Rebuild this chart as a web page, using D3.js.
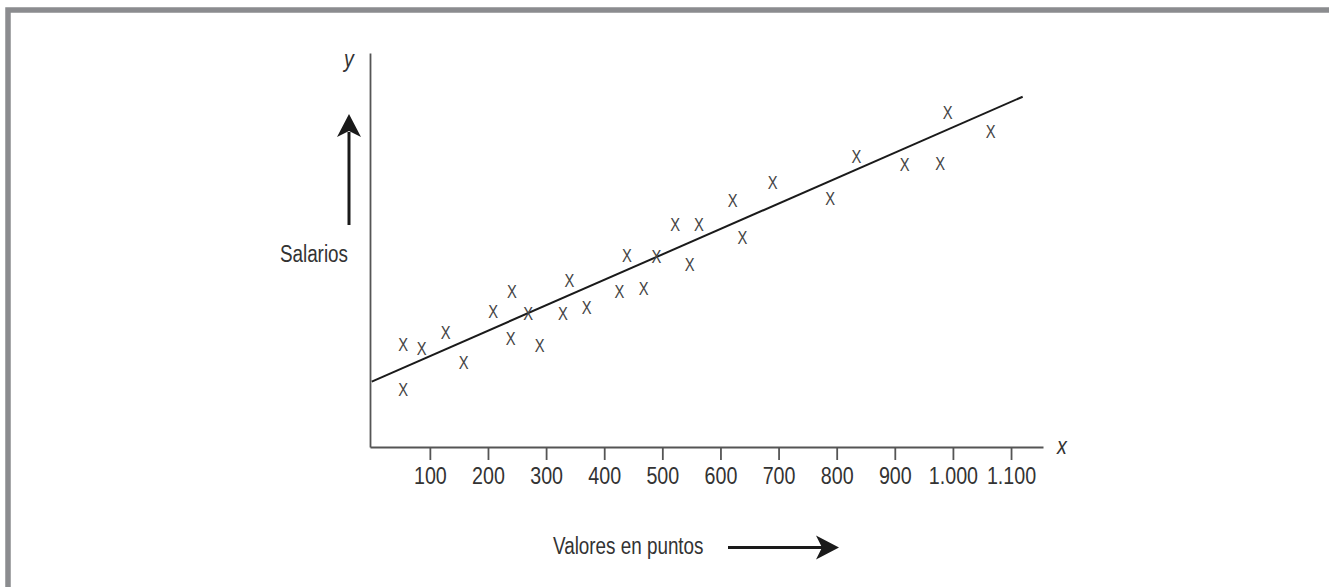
<!DOCTYPE html>
<html>
<head>
<meta charset="utf-8">
<script src="https://cdn.jsdelivr.net/npm/d3@7"></script>
<style>
  body { margin: 0; background: #fff; }
  svg { display: block; }
  text { font-family: "Liberation Sans", Arial, sans-serif; fill: #333; }
</style>
</head>
<body>
<div id="chart"></div>
<script>
// puntos (valor en puntos) y salarios (unidades relativas, sin escala en el eje)
var puntos = [54, 54, 86, 127, 158, 209, 241, 239, 269, 289, 329, 340, 370, 426, 439, 468, 490, 547, 522, 563, 621, 638, 690, 789, 834, 917, 978, 991, 1065];
var salarios = [25.9, 14.6, 25.1, 29.1, 21.5, 34.3, 39.4, 27.6, 33.9, 25.7, 33.9, 42.2, 35.5, 39.4, 48.7, 40.1, 48.3, 46.2, 56.5, 56.5, 62.5, 53.2, 67.1, 63.0, 73.7, 71.6, 72.0, 84.9, 80.2];
// recta de regresion (extremos)
var rectaX = [0, 1120];
var rectaY = [16.6, 88.9];
var tickValues = [100, 200, 300, 400, 500, 600, 700, 800, 900, 1000, 1100];

var width = 1329, height = 587;
var narrow = 0.82; // la fuente original es condensada

var svg = d3.select("#chart").append("svg")
  .attr("width", width).attr("height", height);

// marco gris (arriba e izquierda)
svg.append("rect")
  .attr("x", 8).attr("y", 10)
  .attr("width", 1400).attr("height", 700)
  .attr("fill", "none")
  .attr("stroke", "#8b8c8f")
  .attr("stroke-width", 5.5);

var x = d3.scaleLinear().domain([-3, 1155]).range([370, 1043]);
var y = d3.scaleLinear().domain([0, 100]).range([447, 53]);

var es = d3.formatLocale({ decimal: ",", thousands: ".", grouping: [3], currency: ["", " €"] });

// texto condensado en (px, py)
function label(px, py, str, size, anchor, italic) {
  var t = svg.append("g")
    .attr("transform", "translate(" + px + "," + py + ") scale(" + narrow + ",1)")
    .append("text")
    .attr("text-anchor", anchor || "start")
    .style("font-size", size + "px")
    .text(str);
  if (italic) t.style("font-style", "italic");
  return t;
}

// eje x
var gx = svg.append("g")
  .attr("transform", "translate(0," + y(0) + ")")
  .call(d3.axisBottom(x)
    .tickValues(tickValues)
    .tickFormat(es.format(",d"))
    .tickSize(13)
    .tickSizeOuter(0)
    .tickPadding(7));
gx.select(".domain").attr("stroke", "#555").attr("stroke-width", 2);
gx.selectAll(".tick line").attr("stroke", "#555").attr("stroke-width", 1.8);
gx.selectAll(".tick text")
  .attr("fill", "#333")
  .attr("transform", "scale(" + narrow + ",1)")
  .style("font-family", "'Liberation Sans', Arial, sans-serif")
  .style("font-size", "24px");

// eje y (solo la linea)
var gy = svg.append("g")
  .attr("transform", "translate(" + x(-3) + ",0)")
  .call(d3.axisLeft(y).tickValues([]).tickSizeOuter(0));
gy.select(".domain").attr("stroke", "#555").attr("stroke-width", 1.8);

// etiquetas de los ejes
label(x(1155) + 19, y(0) + 7, "x", 24, "middle", true);
label(x(-3) - 21, y(100) + 14, "y", 24, "middle", true);

// recta
var line = d3.line()
  .x(function (d) { return x(d[0]); })
  .y(function (d) { return y(d[1]); });

svg.append("path")
  .datum(d3.zip(rectaX, rectaY))
  .attr("d", line)
  .attr("fill", "none")
  .attr("stroke", "#1a1a1a")
  .attr("stroke-width", 2);

// puntos como "X"
svg.selectAll(".pt")
  .data(d3.zip(puntos, salarios))
  .enter().append("text")
  .attr("class", "pt")
  .attr("transform", function (d) {
    return "translate(" + x(d[0]) + "," + y(d[1]) + ") scale(" + narrow + ",1)";
  })
  .attr("text-anchor", "middle")
  .attr("dy", "0.36em")
  .style("font-size", "18px")
  .style("fill", "#444")
  .text("X");

// flechas
function arrowHead(tx, ty, ang) {
  // punta en (tx,ty), apuntando en direccion ang (radianes)
  var L = 23, W = 12, N = 17;
  var ca = Math.cos(ang), sa = Math.sin(ang);
  var pts = [[0, 0], [-L, -W], [-N, 0], [-L, W]].map(function (p) {
    return [tx + p[0] * ca - p[1] * sa, ty + p[0] * sa + p[1] * ca];
  });
  return "M" + pts.map(function (p) { return p.join(","); }).join("L") + "Z";
}

// flecha vertical (Salarios)
var ax = x(-3) - 21;
svg.append("line")
  .attr("x1", ax).attr("x2", ax)
  .attr("y1", 225).attr("y2", 132)
  .attr("stroke", "#1a1a1a").attr("stroke-width", 3);
svg.append("path")
  .attr("d", arrowHead(ax, 114, -Math.PI / 2))
  .attr("fill", "#1a1a1a");

label(ax - 1, 262, "Salarios", 23, "end");

// flecha horizontal (Valores en puntos)
label(553, 554, "Valores en puntos", 23, "start");
svg.append("line")
  .attr("x1", 728).attr("x2", 822)
  .attr("y1", 547.5).attr("y2", 547.5)
  .attr("stroke", "#1a1a1a").attr("stroke-width", 3);
svg.append("path")
  .attr("d", arrowHead(839, 547.5, 0))
  .attr("fill", "#1a1a1a");
</script>
</body>
</html>
